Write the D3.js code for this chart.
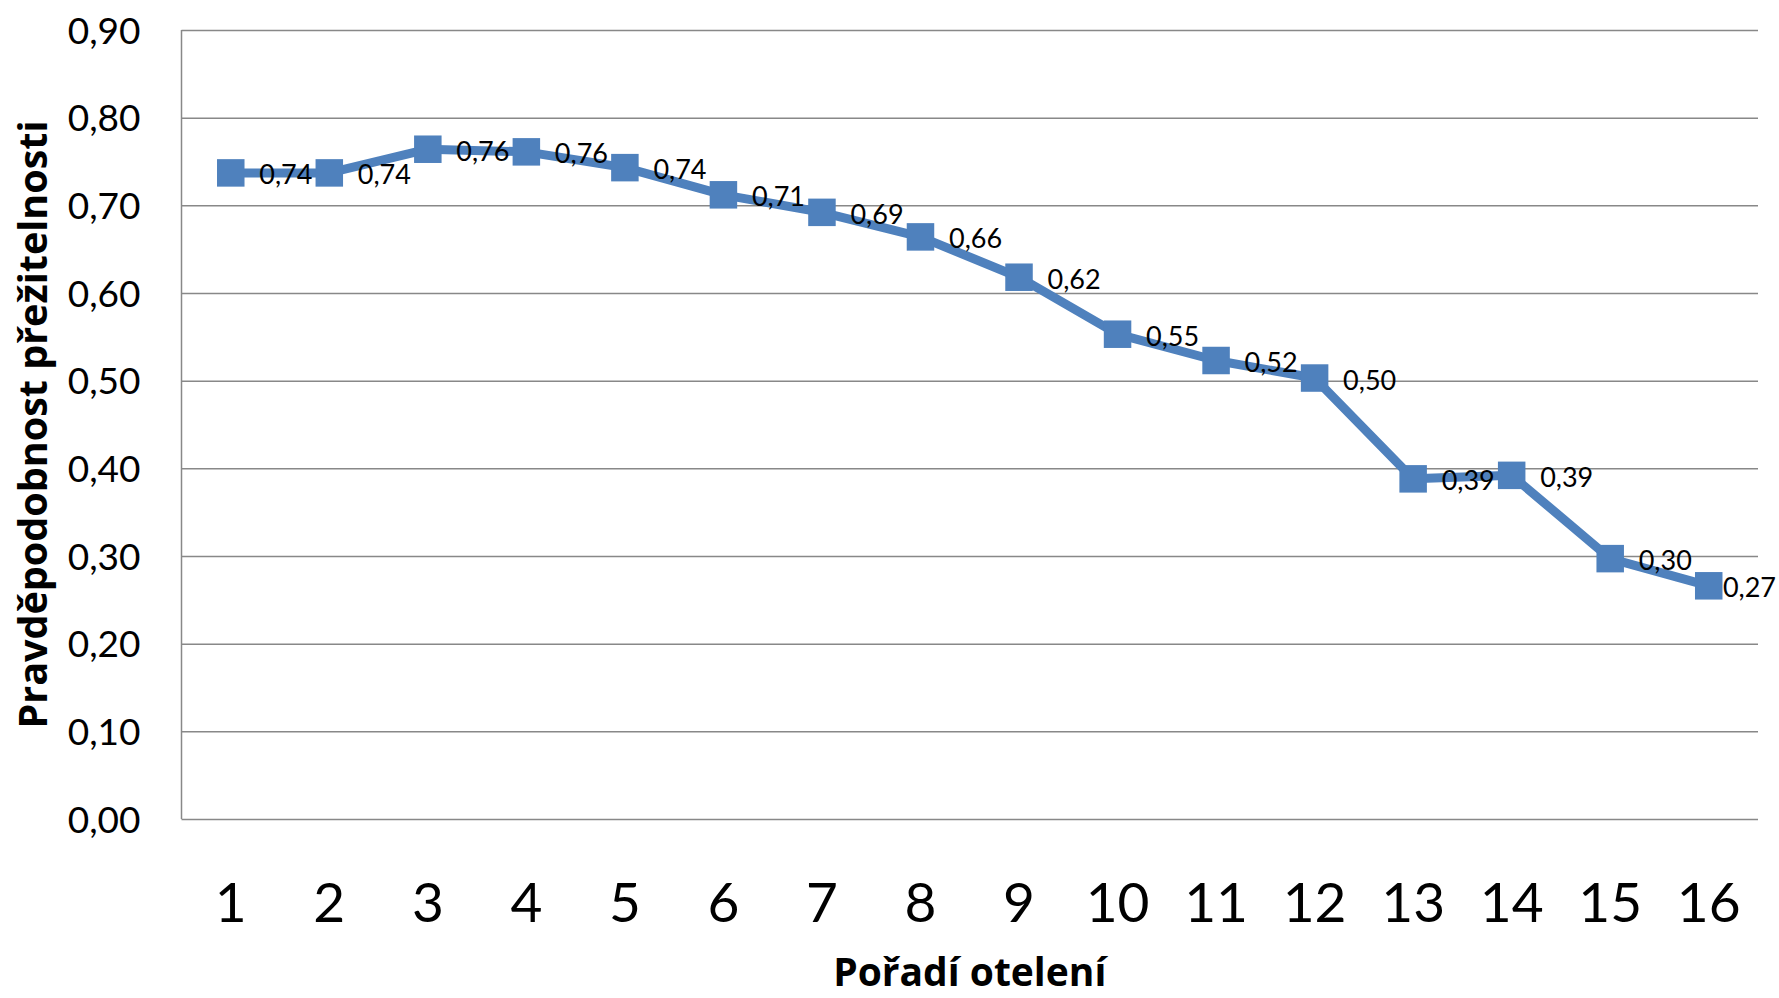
<!DOCTYPE html>
<html>
<head>
<meta charset="utf-8">
<script src="https://cdn.jsdelivr.net/npm/d3@7"></script>
<style>
  html, body { margin: 0; padding: 0; background: #ffffff; }
  svg { display: block; }
  text { font-family: Lato, "Open Sans", sans-serif; fill: #000; }
  .title { font-family: "Open Sans", Lato, sans-serif; font-weight: bold; }
</style>
</head>
<body>
<svg id="chart" width="1779" height="998"></svg>
<script>
// Calving order (Pořadí otelení) and survival probability per order
const categories = ["1","2","3","4","5","6","7","8","9","10","11","12","13","14","15","16"];
const survival = [0.737, 0.737, 0.764, 0.761, 0.743, 0.712, 0.692, 0.664, 0.618, 0.553, 0.523, 0.503, 0.388, 0.392, 0.297, 0.266];
const yTicks = [0, 0.1, 0.2, 0.3, 0.4, 0.5, 0.6, 0.7, 0.8, 0.9];
const xTitle = "Pořadí otelení";
const yTitle = "Pravděpodobnost přežitelnosti";

const czech = d3.formatLocale({ decimal: ",", thousands: " ", grouping: [3], currency: ["", " Kč"] });
const fmt = czech.format(".2f");

const W = 1779;
const svg = d3.select("#chart");
const plot = { left: 181.5, right: 1758, top: 30, bottom: 819 };
const blue = "#4F81BD";
const gridColor = "#888888";

const x = d3.scaleBand().domain(categories).range([plot.left, plot.right]);
const y = d3.scaleLinear().domain([0, 0.9]).range([plot.bottom, plot.top]);
const cx = c => x(c) + x.bandwidth() / 2;

// Horizontal gridlines and value labels
const yAxis = svg.append("g")
  .attr("transform", `translate(${plot.left},0)`)
  .call(d3.axisLeft(y)
    .tickValues(yTicks)
    .tickSize(-(plot.right - plot.left))
    .tickFormat(fmt)
    .tickPadding(40));
yAxis.select(".domain").remove();
yAxis.selectAll(".tick line")
  .attr("stroke", gridColor)
  .attr("stroke-width", 1.5);
yAxis.selectAll(".tick text")
  .attr("x", -41)
  .attr("dy", null)
  .attr("y", 13.3)
  .style("font-size", "37px")
  .attr("fill", "#000");

// Vertical axis line
svg.append("line")
  .attr("x1", plot.left).attr("x2", plot.left)
  .attr("y1", y(0)).attr("y2", y(0.9))
  .attr("stroke", gridColor)
  .attr("stroke-width", 1.5);

// Category axis labels
const xAxis = svg.append("g")
  .attr("transform", `translate(0,${plot.bottom})`)
  .call(d3.axisBottom(x).tickSize(0).tickPadding(0));
xAxis.select(".domain").remove();
xAxis.selectAll(".tick text")
  .attr("y", 103)
  .attr("dy", null)
  .style("font-size", "55px")
  .attr("fill", "#000");

// Survival line
const line = d3.line()
  .x((d, i) => cx(categories[i]))
  .y(d => y(d));
svg.append("path")
  .datum(survival)
  .attr("fill", "none")
  .attr("stroke", blue)
  .attr("stroke-width", 9)
  .attr("stroke-linejoin", "round")
  .attr("d", line);

// Square markers
const m = 27.5;
svg.append("g").selectAll("rect")
  .data(survival)
  .join("rect")
  .attr("x", (d, i) => cx(categories[i]) - m / 2)
  .attr("y", d => y(d) - m / 2)
  .attr("width", m)
  .attr("height", m)
  .attr("fill", blue);

// Data labels to the right of each marker, kept inside the canvas
svg.append("g").selectAll("text")
  .data(survival)
  .join("text")
  .attr("y", d => y(d) + 11.5)
  .style("font-size", "27px")
  .text(d => fmt(d))
  .attr("x", function (d, i) {
    const wanted = cx(categories[i]) + 28.5;
    const len = this.getComputedTextLength();
    return Math.min(wanted, W - 3 - len);
  });

// Axis titles
svg.append("text")
  .attr("class", "title")
  .attr("x", (plot.left + plot.right) / 2)
  .attr("y", 986)
  .attr("text-anchor", "middle")
  .style("font-size", "39px")
  .text(xTitle);

svg.append("text")
  .attr("class", "title")
  .attr("transform", "translate(46.5,424.5) rotate(-90)")
  .attr("text-anchor", "middle")
  .style("font-size", "39.5px")
  .text(yTitle);
</script>
</body>
</html>
